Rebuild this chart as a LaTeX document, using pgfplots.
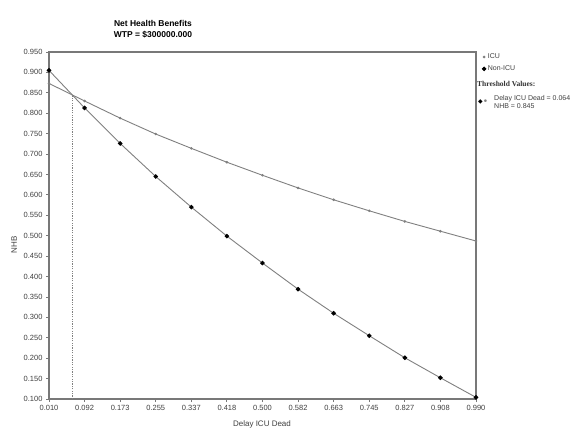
\documentclass[border=0pt]{standalone}
\usepackage{pgfplots}
\pgfplotsset{compat=1.18}
\usepackage{fontspec}
\setmainfont{Liberation Sans}
\newfontfamily\serifb{Liberation Serif}
\newfontfamily\symb{DejaVu Sans}

\definecolor{linegray}{RGB}{128,128,128}
\definecolor{axgray}{RGB}{120,120,120}

\begin{document}
\begin{tikzpicture}[x=1pt,y=1pt]
  \path[use as bounding box, fill=white] (0,0) rectangle (578,429);
  \begin{axis}[
    at={(49pt,30pt)}, anchor=south west,
    scale only axis,
    width=427pt, height=347pt,
    xmin=0.010, xmax=0.990,
    ymin=0.100, ymax=0.950,
    xtick={0.010,0.0917,0.1733,0.255,0.3367,0.4183,0.5,0.5817,0.6633,0.745,0.8267,0.9083,0.990},
    xticklabels={0.010,0.092,0.173,0.255,0.337,0.418,0.500,0.582,0.663,0.745,0.827,0.908,0.990},
    ytick={0.10,0.15,...,0.96},
    yticklabel={\pgfmathprintnumber[fixed,fixed zerofill,precision=3]{\tick}},
    /pgf/number format/assume math mode=true,
    tick label style={font=\fontsize{7.5}{8}\selectfont, text=black!75},
    xtick pos=left, ytick pos=left,
    tick align=outside,
    major tick length=3pt,
    tick style={axgray, line width=0.8pt},
    axis line style={axgray, line width=1.1pt},
    scaled ticks=false,
    clip=false,
    legend style={at={(rel axis cs:1.012,1.004)}, anchor=north west, draw=none,
      fill=none, font=\fontsize{7}{8}\selectfont, text=black!75,
      row sep=1.5pt, inner sep=1pt},
    legend cell align=left,
    legend image code/.code={\path[#1] plot coordinates {(0.1cm,0cm)};},
  ]
    % ICU
    \addplot[linegray, line width=0.9pt, mark=*, mark size=0.8pt,
      mark options={fill=gray, draw=gray}] coordinates {
      (0.010,0.873) (0.0917,0.830) (0.1733,0.788) (0.255,0.749)
      (0.3367,0.714) (0.4183,0.680) (0.5,0.648) (0.5817,0.617)
      (0.6633,0.588) (0.745,0.561) (0.8267,0.535) (0.9083,0.511)
      (0.990,0.487)
    };
    \addlegendentry{ICU}
    % Non-ICU
    \addplot[linegray, line width=0.9pt, mark=*, mark size=1.8pt,
      mark options={fill=black, draw=black}] coordinates {
      (0.010,0.905) (0.0917,0.813) (0.1733,0.726) (0.255,0.645)
      (0.3367,0.570) (0.4183,0.499) (0.5,0.433) (0.5817,0.369)
      (0.6633,0.310) (0.745,0.255) (0.8267,0.201) (0.9083,0.152)
      (0.990,0.104)
    };
    \addlegendentry{Non-ICU}
    % threshold
    \addplot[linegray, line width=1pt, dash pattern=on 1.2pt off 1.2pt, forget plot] coordinates {
      (0.064,0.100) (0.064,0.845)
    };
  \end{axis}
  \node[font=\bfseries\fontsize{8.5}{10.5}\selectfont, align=center, anchor=center]
    at (153,400) {Net Health Benefits\\WTP = \$300000.000};
  \node[rotate=90, font=\fontsize{8}{9}\selectfont, text=black!75] at (14,184) {NHB};
  \node[font=\fontsize{8}{9}\selectfont, text=black!75] at (262,5) {Delay ICU Dead};
  \node[anchor=west, font=\serifb\bfseries\fontsize{7.5}{8}\selectfont, text=black!80, inner sep=0pt]
    at (477,345) {Threshold Values:};
  \node[anchor=west, inner sep=0pt, font=\symb\fontsize{6}{7}\selectfont] at (478,327) {◆\textcolor{gray}{\raisebox{-0.5pt}{\fontsize{9}{9}\selectfont•}}};
  \node[anchor=west, align=left, inner sep=0pt, font=\fontsize{7}{8}\selectfont, text=black!75]
    at (494,327) {Delay ICU Dead = 0.064\\NHB = 0.845};
\end{tikzpicture}
\end{document}
